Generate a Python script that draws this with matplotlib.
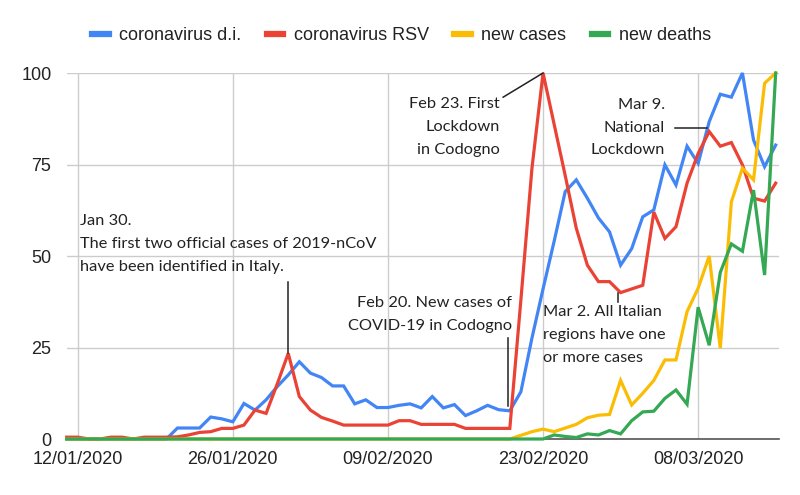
import pandas as pd
import matplotlib
matplotlib.use('Agg')
import matplotlib.pyplot as plt

# daily values, 11/01/2020 .. 15/03/2020 (65 days), 0-100 scale
start_date = '2020-01-11'
di_values = [0, 0, 0, 0, 0, 0, 0, 0, 0, 0,
             3, 3, 3, 6, 5.5, 4.7, 9.7, 7.9, 10.7, 14.3,
             17.5, 21.1, 18, 16.8, 14.5, 14.5, 9.6, 10.7, 8.6, 8.6,
             9.2, 9.6, 8.5, 11.6, 8.5, 9.4, 6.4, 7.7, 9.2, 8.0,
             7.7, 12.9, 27.6, 41, 54, 67.6, 70.8, 65.8, 60.4, 56.6,
             47.5, 52, 60.7, 62.6, 74.9, 69.4, 80, 75.3, 86.7, 94.2,
             93.4, 100, 81.7, 74.4, 80.3]
rsv_values = [0.5, 0.5, 0, 0, 0.5, 0.5, 0, 0.5, 0.5, 0.5,
              0.6, 1.1, 1.8, 2, 2.9, 2.9, 3.8, 7.9, 7, 15,
              23.4, 11.6, 7.9, 5.9, 4.9, 3.8, 3.8, 3.8, 3.8, 3.8,
              5, 5, 4, 4, 4, 4, 2.9, 2.9, 2.9, 2.9,
              2.9, 38, 74, 100, 86, 72, 57.6, 47.5, 43, 43,
              40, 41, 42, 62, 54.8, 58, 69.9, 78, 84, 80,
              81, 74.9, 65.8, 65, 69.9]
cases_values = [0] * 41 + [1, 2, 2.7, 2, 3, 4, 5.8, 6.5, 6.7,
                           16, 9.3, 12.5, 16, 21.6, 21.6, 34.8, 41.2, 50, 24.8,
                           64.8, 74, 70.8, 97.2, 100]
deaths_values = [0] * 44 + [1.1, 0.7, 0.4, 1.4, 1.1, 2.3,
                            1.4, 5, 7.4, 7.6, 11.1, 13.4, 9.5, 36, 25.6, 45.5,
                            53.3, 51.3, 68, 44.8, 100]

series_names = ['coronavirus d.i.', 'coronavirus RSV', 'new cases', 'new deaths']
series_colors = ['#4285F4', '#EA4335', '#FBBC04', '#34A853']
tick_dates = ['2020-01-12', '2020-01-26', '2020-02-09', '2020-02-23', '2020-03-08']
y_ticks = [0, 25, 50, 75, 100]

dates = pd.date_range(start_date, periods=len(di_values), freq='D')
day = pd.Timedelta(days=1)

fig = plt.figure(figsize=(8, 4.95), dpi=100)
ax = fig.add_axes([66.7 / 800, 1 - 439 / 495, 712.3 / 800, 366 / 495])

all_series = [di_values, rsv_values, cases_values, deaths_values]
for vals, name, col in zip(all_series, series_names, series_colors):
    ax.plot(dates, vals, color=col, lw=2.3, label=name, clip_on=False,
            solid_joinstyle='miter', zorder=3)

ax.set_xlim(dates[0], dates[-1] + 0.3 * day)
ax.set_ylim(0, 100)
ax.set_xticks(pd.to_datetime(tick_dates))
ax.set_xticklabels([pd.Timestamp(d).strftime('%d/%m/%Y') for d in tick_dates])
ax.set_yticks(y_ticks)
ax.grid(True, color='#cccccc', lw=1, zorder=0)
ax.set_axisbelow(True)
for s in ['top', 'right', 'left']:
    ax.spines[s].set_visible(False)
ax.spines['bottom'].set_color('#555555')
ax.spines['bottom'].set_linewidth(1.2)
ax.spines['bottom'].set_zorder(2)
ax.tick_params(length=0, labelsize=13, colors='#222222')
ax.tick_params(axis='y', pad=11)
ax.tick_params(axis='x', pad=9)
for lab in ax.get_xticklabels() + ax.get_yticklabels():
    lab.set_family('Liberation Sans')

# annotations
note_kw = dict(family='Lato', fontsize=11.8, color='#222222', linespacing=1.8, zorder=1)
d = lambda i: dates[0] + i * day

ax.text(d(1.2), 53.3, 'Jan 30.\nThe first two official cases of 2019-nCoV\nhave been identified in Italy.',
        ha='left', va='center', **note_kw)
ax.plot([d(20), d(20)], [23.4, 42.9], color='#222222', lw=1.1, zorder=4)

ax.text(d(40.2), 34, 'Feb 20. New cases of\nCOVID-19 in Codogno', ha='right', va='center', **note_kw)
ax.plot([d(39.8), d(39.8)], [9.0, 27.6], color='#222222', lw=1.1, zorder=4)

ax.text(d(39.1), 85.2, 'Feb 23. First\nLockdown\nin Codogno', ha='right', va='center', **note_kw)
ax.plot([d(39.4), d(43)], [93.4, 100], color='#222222', lw=1.1, zorder=4, clip_on=False)

ax.text(d(43.0), 28.4, 'Mar 2. All Italian\nregions have one\nor more cases', ha='left', va='center', **note_kw)
ax.plot([d(49.8), d(49.8)], [40, 37.5], color='#222222', lw=1.1, zorder=4)

ax.text(d(54.0), 85.1, 'Mar 9.\nNational\nLockdown', ha='right', va='center', **note_kw)
ax.plot([d(54.9), d(57.76)], [85, 85], color='#222222', lw=1.1, zorder=4)

leg = fig.legend(loc='center', bbox_to_anchor=(0.502, 1 - 36 / 495), ncol=4, frameon=False,
                 prop={'family': 'Liberation Sans', 'size': 13}, handlelength=0.9,
                 handletextpad=0.6, columnspacing=1.4)
for h in leg.get_lines():
    h.set_linewidth(4.5)
for t in leg.get_texts():
    t.set_color('#222222')

fig.savefig('out.png', dpi=100)
